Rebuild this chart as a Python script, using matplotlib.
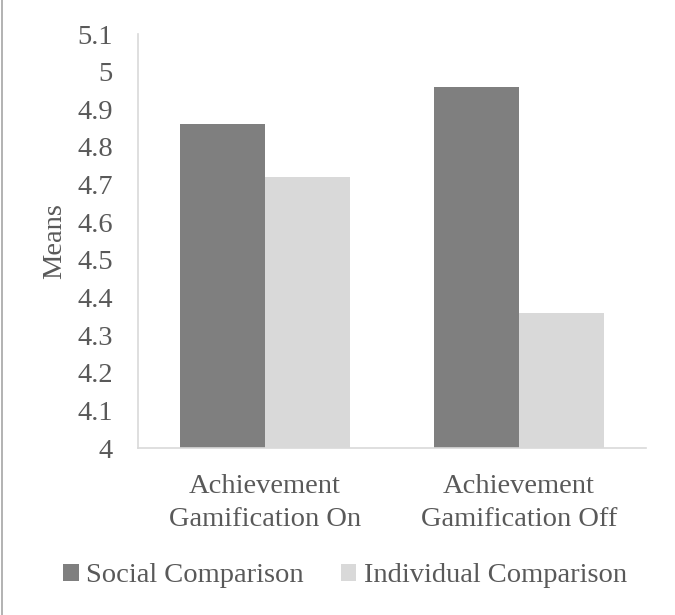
import matplotlib
matplotlib.use("Agg")
import matplotlib.pyplot as plt
from matplotlib.lines import Line2D
from matplotlib.ticker import FuncFormatter
import numpy as np

# Data
categories = ["Achievement\nGamification On", "Achievement\nGamification Off"]
series_names = ["Social Comparison", "Individual Comparison"]
social = [4.86, 4.96]
individual = [4.72, 4.36]
y_ticks = [4.0, 4.1, 4.2, 4.3, 4.4, 4.5, 4.6, 4.7, 4.8, 4.9, 5.0, 5.1]

TEXT = "#595959"
AXIS = "#d9d9d9"
DARK = "#7f7f7f"
LIGHT = "#d9d9d9"
FS = 20.5

plt.rcParams["font.family"] = ["Liberation Serif", "DejaVu Serif"]

fig = plt.figure(figsize=(6.75, 6.15), dpi=100)
ax = fig.add_axes([138 / 675, 1 - 448 / 615, (646 - 138) / 675, (448 - 34) / 615])

x = np.arange(len(categories))
w = 1 / 3
ax.bar(x - w / 2, social, width=w, color=DARK, label=series_names[0])
ax.bar(x + w / 2, individual, width=w, color=LIGHT, label=series_names[1])

ax.set_xlim(-0.5, len(categories) - 0.5)
ax.set_ylim(4.0, 5.1)
ax.set_yticks(y_ticks)
ax.yaxis.set_major_formatter(FuncFormatter(lambda v, p: f"{v:g}"))
ax.set_xticks(x)
ax.set_xticklabels(categories, linespacing=1.42)

ax.tick_params(axis="y", length=0, pad=18, labelsize=FS, labelcolor=TEXT)
ax.tick_params(axis="x", length=0, pad=19, labelsize=FS, labelcolor=TEXT)

for s in ["top", "right"]:
    ax.spines[s].set_visible(False)
for s in ["left", "bottom"]:
    ax.spines[s].set_color(AXIS)
    ax.spines[s].set_linewidth(1.2)

ax.set_ylabel("Means", fontsize=FS, color=TEXT, labelpad=7)

fig.legend(loc="center", bbox_to_anchor=(345 / 675, 1 - 576 / 615), ncol=2,
           frameon=False, fontsize=FS, handlelength=0.55, handleheight=0.55,
           handletextpad=0.25, columnspacing=1.3, labelcolor=TEXT)

# chart area border on the left
fig.add_artist(Line2D([1.5 / 675, 1.5 / 675], [0, 1], color="#a6a6a6", linewidth=1.2))

fig.savefig("out.png", dpi=100)
